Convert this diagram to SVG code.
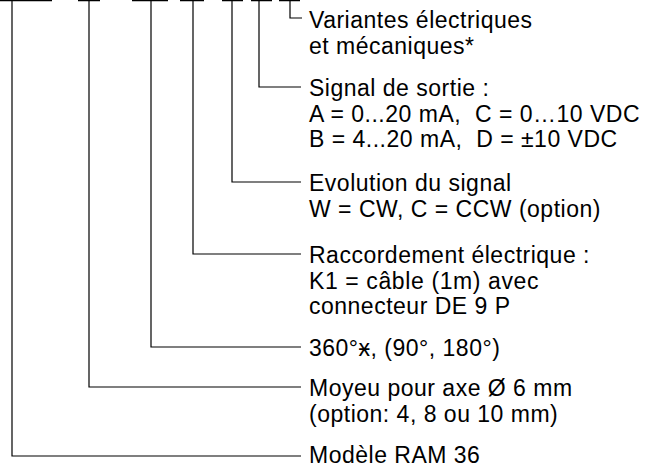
<svg xmlns="http://www.w3.org/2000/svg" width="648" height="468" viewBox="0 0 648 468">
<style>
.c{fill:none;stroke:#000;stroke-width:1.2}
.t{font-family:"Liberation Sans",Arial,sans-serif;font-size:23px;letter-spacing:0.5px;fill:#000}
</style>
<rect width="648" height="468" fill="#fff"/>
<g id="connectors">
<path class="c" d="M0 0.6H52M12 0V456H301"/>
<path class="c" d="M78 0.6H100M89 0V387H301"/>
<path class="c" d="M132 0.6H168M151 0V347H301"/>
<path class="c" d="M180 0.6H204M193 0V254H301"/>
<path class="c" d="M222 0.6H243M232 0V182H301"/>
<path class="c" d="M251 0.6H272M259 0V87H301"/>
<path class="c" d="M279 0.6H300M290 0V18H302"/>
</g>
<g id="n7"><text class="t" x="309" y="28">Variantes électriques</text><text class="t" x="309" y="54">et mécaniques*</text></g>
<g id="n6"><text class="t" x="309" y="96">Signal de sortie :</text><text class="t" x="309" y="122" xml:space="preserve">A = 0...20 mA,  C = 0…10 VDC</text><text class="t" x="309" y="147" xml:space="preserve">B = 4...20 mA,  D = ±10 VDC</text></g>
<g id="n5"><text class="t" x="309" y="191">Evolution du signal</text><text class="t" x="309" y="217">W = CW, C = CCW (option)</text></g>
<g id="n4"><text class="t" x="309" y="263">Raccordement électrique :</text><text class="t" x="309" y="289" textLength="230" lengthAdjust="spacing">K1 = câble (1m) avec</text><text class="t" x="309" y="314">connecteur DE 9 P</text></g>
<g id="n3"><text class="t" x="309" y="356">360°ӿ, (90°, 180°)</text></g>
<g id="n2"><text class="t" x="309" y="396">Moyeu pour axe Ø 6 mm</text><text class="t" x="309" y="422">(option: 4, 8 ou 10 mm)</text></g>
<g id="n1"><text class="t" x="309" y="463">Modèle RAM 36</text></g>
</svg>
